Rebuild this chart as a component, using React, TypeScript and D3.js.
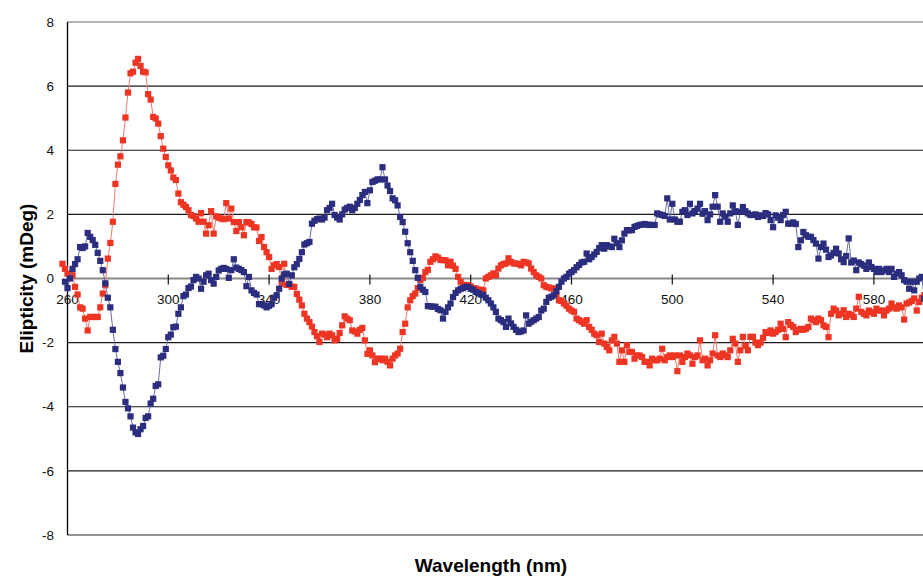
import React from "react";
import * as d3 from "d3";

// CD spectra: ellipticity (mDeg) sampled every 1 nm
const blueStart = 259;
const blueValues = [
  -0.1, -0.3, 0.0, 0.3, 0.45, 0.6, 0.98, 0.95, 1.0, 1.42,
  1.3, 1.2, 1.05, 0.8, 0.55, 0.26, -0.15, -0.6, -0.9, -1.6,
  -2.2, -2.6, -2.95, -3.4, -3.85, -4.05, -4.3, -4.65, -4.8, -4.85,
  -4.7, -4.6, -4.35, -4.3, -3.9, -3.75, -3.35, -3.3, -2.46, -2.41,
  -2.2, -1.83, -1.75, -1.52, -1.5, -1.1, -0.9, -0.55, -0.5, -0.3,
  -0.25, -0.05, 0.05, 0.0, -0.32, -0.1, 0.1, 0.15, -0.05, -0.16,
  0.05, 0.25, 0.3, 0.33, 0.3, 0.02, 0.26, 0.6, 0.34, 0.3,
  0.26, 0.2, -0.24, 0.05, -0.37, -0.45, -0.5, -0.8, -0.8, -0.84,
  -0.9, -0.85, -0.8, -0.6, -0.52, -0.32, 0.0, 0.13, 0.15, -0.17,
  0.1, 0.35, 0.45, 0.61, 0.82, 1.06, 1.1, 1.14, 1.71, 1.8,
  1.85, 1.87, 1.84, 1.9, 2.13, 2.2, 2.33, 1.98, 1.9, 1.84,
  2.0, 2.15, 2.2, 2.24, 2.13, 2.2, 2.33, 2.45, 2.6, 2.7,
  2.35, 2.75, 3.01, 3.05, 3.09, 3.09, 3.47, 3.09, 2.9, 2.73,
  2.5, 2.44, 2.28, 1.92, 1.76, 1.46, 1.1, 0.82, 0.55, 0.26,
  0.02, -0.26, -0.35, -0.42, -0.86, -0.87, -0.88, -0.88, -0.95, -0.99,
  -1.25, -1.04, -0.9, -0.78, -0.58, -0.45, -0.37, -0.32, -0.3, -0.26,
  -0.26, -0.32, -0.35, -0.42, -0.45, -0.5, -0.52, -0.6, -0.68, -0.78,
  -0.9, -1.04, -1.25, -1.3, -1.36, -1.51, -1.25, -1.4, -1.51, -1.6,
  -1.67, -1.65, -1.62, -1.15, -1.41, -1.35, -1.3, -1.25, -1.2, -1.0,
  -0.94, -0.73, -0.6, -0.57, -0.52, -0.4, -0.26, -0.1, 0.0, 0.05,
  0.15, 0.2, 0.26, 0.35, 0.42, 0.5, 0.52, 0.78, 0.6, 0.67,
  0.75, 0.83, 0.95, 1.04, 0.93, 1.04, 1.0, 0.98, 1.24, 1.1,
  0.98, 1.19, 1.4, 1.51, 1.5, 1.51, 1.61, 1.64, 1.67, 1.68,
  1.7, 1.68, 1.67, 1.67, 1.67, 2.03, 2.0, 1.98, 1.95, 2.5,
  1.84, 2.33, 1.84, 1.77, 1.77, 2.08, 2.13, 1.98, 2.33, 2.03,
  2.1, 2.18, 2.33, 2.02, 2.1, 1.82, 2.0, 2.24, 2.6, 2.24,
  1.77, 2.03, 1.93, 1.77, 2.03, 2.28, 2.1, 1.67, 2.08, 2.23,
  2.1, 2.03, 1.98, 1.98, 2.0, 1.92, 1.97, 1.95, 2.04, 2.0,
  1.82, 1.6, 1.97, 1.9, 1.82, 1.98, 2.08, 1.71, 1.71, 1.75,
  1.7, 0.98, 1.19, 1.45, 1.35, 1.3, 1.3, 1.2, 1.09, 0.62,
  0.98, 1.09, 0.9, 0.67, 0.72, 0.8, 0.93, 0.78, 0.6, 0.51,
  0.7, 1.25, 0.5, 0.56, 0.26, 0.5, 0.45, 0.4, 0.3, 0.5,
  0.36, 0.3, 0.2, 0.3, 0.2, 0.25, 0.3, 0.2, 0.3, 0.05,
  0.15, 0.2, 0.1, -0.05, -0.1, -0.32, -0.1, -0.37, -0.1, 0.0,
  0.05, -0.63,
];

const redStart = 258;
const redValues = [
  0.46, 0.3, 0.15, 0.12, 0.1, -0.26, -0.5, -0.9, -0.94, -1.25,
  -1.62, -1.2, -1.2, -1.2, -1.2, -0.9, -0.47, -0.21, 0.62, 1.11,
  1.77, 2.95, 3.55, 3.81, 4.31, 5.02, 5.8, 6.4, 6.45, 6.73,
  6.85, 6.63, 6.45, 6.43, 5.75, 5.58, 5.04, 4.99, 4.83, 4.44,
  4.05, 3.79, 3.53, 3.37, 3.15, 3.07, 2.65, 2.38, 2.3, 2.23,
  2.13, 1.98, 1.95, 1.87, 1.77, 2.04, 1.77, 1.4, 1.66, 2.1,
  1.4, 1.94, 1.9, 1.87, 1.85, 2.35, 1.87, 2.18, 1.76, 1.48,
  1.76, 1.6, 1.35, 1.76, 1.75, 1.7, 1.6, 1.59, 1.17, 1.29,
  0.98, 0.82, 0.67, 0.3, 0.41, 0.45, 0.36, -0.16, 0.46, -0.2,
  -0.2, -0.26, -0.26, -0.48, -0.66, -0.84, -1.1, -1.25, -1.36, -1.5,
  -1.67, -1.8, -1.98, -1.72, -1.75, -1.83, -1.72, -1.77, -1.93, -1.88,
  -1.7, -1.46, -1.18, -1.25, -1.3, -1.62, -1.65, -1.72, -1.6, -1.54,
  -1.93, -2.35, -2.24, -2.4, -2.61, -2.5, -2.5, -2.55, -2.5, -2.6,
  -2.71, -2.5, -2.4, -2.34, -2.19, -1.67, -1.41, -0.9, -0.68, -0.55,
  -0.47, -0.3, -0.05, 0.02, 0.2, 0.27, 0.52, 0.6, 0.69, 0.65,
  0.58, 0.57, 0.57, 0.41, 0.52, 0.4, 0.3, 0.05, -0.1, -0.2,
  -0.2, -0.21, -0.25, -0.3, -0.31, -0.35, -0.35, -0.37, 0.0, 0.05,
  0.1, 0.16, 0.1, 0.31, 0.41, 0.45, 0.47, 0.63, 0.52, 0.47,
  0.47, 0.45, 0.41, 0.52, 0.5, 0.47, 0.31, 0.2, 0.1, 0.05,
  0.0, -0.21, -0.26, -0.28, -0.31, -0.31, -0.52, -0.68, -0.7, -0.78,
  -0.85, -0.94, -1.0, -1.04, -1.25, -1.3, -1.35, -1.41, -1.3, -1.51,
  -1.6, -1.72, -1.77, -1.98, -1.72, -2.03, -2.14, -2.24, -1.93, -1.82,
  -2.03, -2.6, -2.24, -2.6, -2.08, -2.29, -2.29, -2.5, -2.4, -2.4,
  -2.45, -2.6, -2.6, -2.71, -2.5, -2.55, -2.55, -2.5, -2.19, -2.55,
  -2.45, -2.4, -2.45, -2.4, -2.89, -2.4, -2.6, -2.45, -2.34, -2.4,
  -2.66, -2.45, -2.4, -1.93, -2.55, -2.5, -2.71, -2.55, -2.34, -1.77,
  -2.4, -2.45, -2.34, -2.4, -2.45, -2.24, -1.88, -2.03, -2.6, -2.24,
  -1.82, -2.1, -2.24, -1.82, -1.82, -2.0, -2.08, -2.0, -1.85, -1.67,
  -1.7, -1.62, -1.72, -1.67, -1.6, -1.41, -1.57, -1.83, -1.36, -1.45,
  -1.51, -1.67, -1.6, -1.57, -1.6, -1.57, -1.51, -1.25, -1.3, -1.36,
  -1.25, -1.3, -1.46, -1.51, -1.83, -1.1, -0.94, -1.0, -1.15, -1.1,
  -0.99, -1.2, -1.1, -1.14, -1.2, -0.94, -0.57, -1.04, -1.1, -1.15,
  -1.0, -1.05, -1.1, -0.94, -1.0, -1.0, -1.15, -1.0, -0.94, -0.78,
  -0.9, -0.94, -0.84, -0.9, -1.28, -0.78, -0.75, -0.7, -0.62, -1.0,
  -0.73, -0.6, -0.52,
];

const xTicks = [260, 300, 340, 380, 420, 460, 500, 540, 580];
const yTicks = [-8, -6, -4, -2, 0, 2, 4, 6, 8];

const W = 923;
const H = 577;
const FONT = "Arial, 'Liberation Sans', sans-serif";

type Pt = { nm: number; v: number };

function toPoints(start: number, values: number[]): Pt[] {
  return values.map((v, i) => ({ nm: start + i, v }));
}

const series = [
  { key: "red", color: "#ee3524", line: "#f27a70", pts: toPoints(redStart, redValues) },
  { key: "blue", color: "#2b2d7e", line: "#6a6ca8", pts: toPoints(blueStart, blueValues) },
];

export default function App() {
  const x = d3.scaleLinear().domain([260, 600]).range([67.5, 924.3]);
  const y = d3.scaleLinear().domain([-8, 8]).range([535, 22]);
  const line = d3
    .line<Pt>()
    .x((d) => x(d.nm))
    .y((d) => y(d.v));
  const m = 6.2;

  return (
    <svg
      width={W}
      height={H}
      style={{ position: "absolute", left: 0, top: 0, background: "#fff" }}
      fontFamily={FONT}
    >
      <rect x={0} y={0} width={W} height={H} fill="#fff" />
      {/* horizontal gridlines */}
      {yTicks
        .filter((t) => t !== 0)
        .map((t) => (
          <line
            key={`g${t}`}
            x1={x(260)}
            x2={W}
            y1={y(t)}
            y2={y(t)}
            stroke={t === 8 || t === -8 ? "#6e6e6e" : "#1a1a1a"}
            strokeWidth={t === -8 ? 1.6 : 1.2}
          />
        ))}
      {/* y axis */}
      <line x1={x(260)} x2={x(260)} y1={y(8)} y2={y(-8)} stroke="#000" strokeWidth={1.3} />
      {yTicks.map((t) => (
        <text
          key={`yl${t}`}
          x={54}
          y={y(t)}
          dy="0.35em"
          textAnchor="end"
          fontSize={13.5}
          fill="#111"
        >
          {t}
        </text>
      ))}
      {/* x axis at zero with crossing ticks */}
      <line x1={x(260)} x2={W} y1={y(0)} y2={y(0)} stroke="#888" strokeWidth={2.2} />
      {xTicks.map((t) => (
        <g key={`xt${t}`}>
          <line x1={x(t)} x2={x(t)} y1={y(0) - 4} y2={y(0) + 6} stroke="#111" strokeWidth={1.2} />
          <text x={x(t)} y={y(0) + 25.5} textAnchor="middle" fontSize={13.5} fill="#111">
            {t}
          </text>
        </g>
      ))}
      {/* spectra */}
      {series.map((s) => (
        <g key={s.key}>
          <path d={line(s.pts) ?? ""} fill="none" stroke={s.line} strokeWidth={1} />
          {s.pts.map((d) => (
            <rect
              key={d.nm}
              x={x(d.nm) - m / 2}
              y={y(d.v) - m / 2}
              width={m}
              height={m}
              fill={s.color}
            />
          ))}
        </g>
      ))}
      {/* axis titles */}
      <text
        transform={`translate(26, ${y(0)}) rotate(-90)`}
        textAnchor="middle"
        dy="0.35em"
        fontSize={19}
        fontWeight="bold"
        fill="#000"
      >
        Elipticity (mDeg)
      </text>
      <text x={491} y={572} textAnchor="middle" fontSize={19} fontWeight="bold" fill="#000">
        Wavelength (nm)
      </text>
    </svg>
  );
}
